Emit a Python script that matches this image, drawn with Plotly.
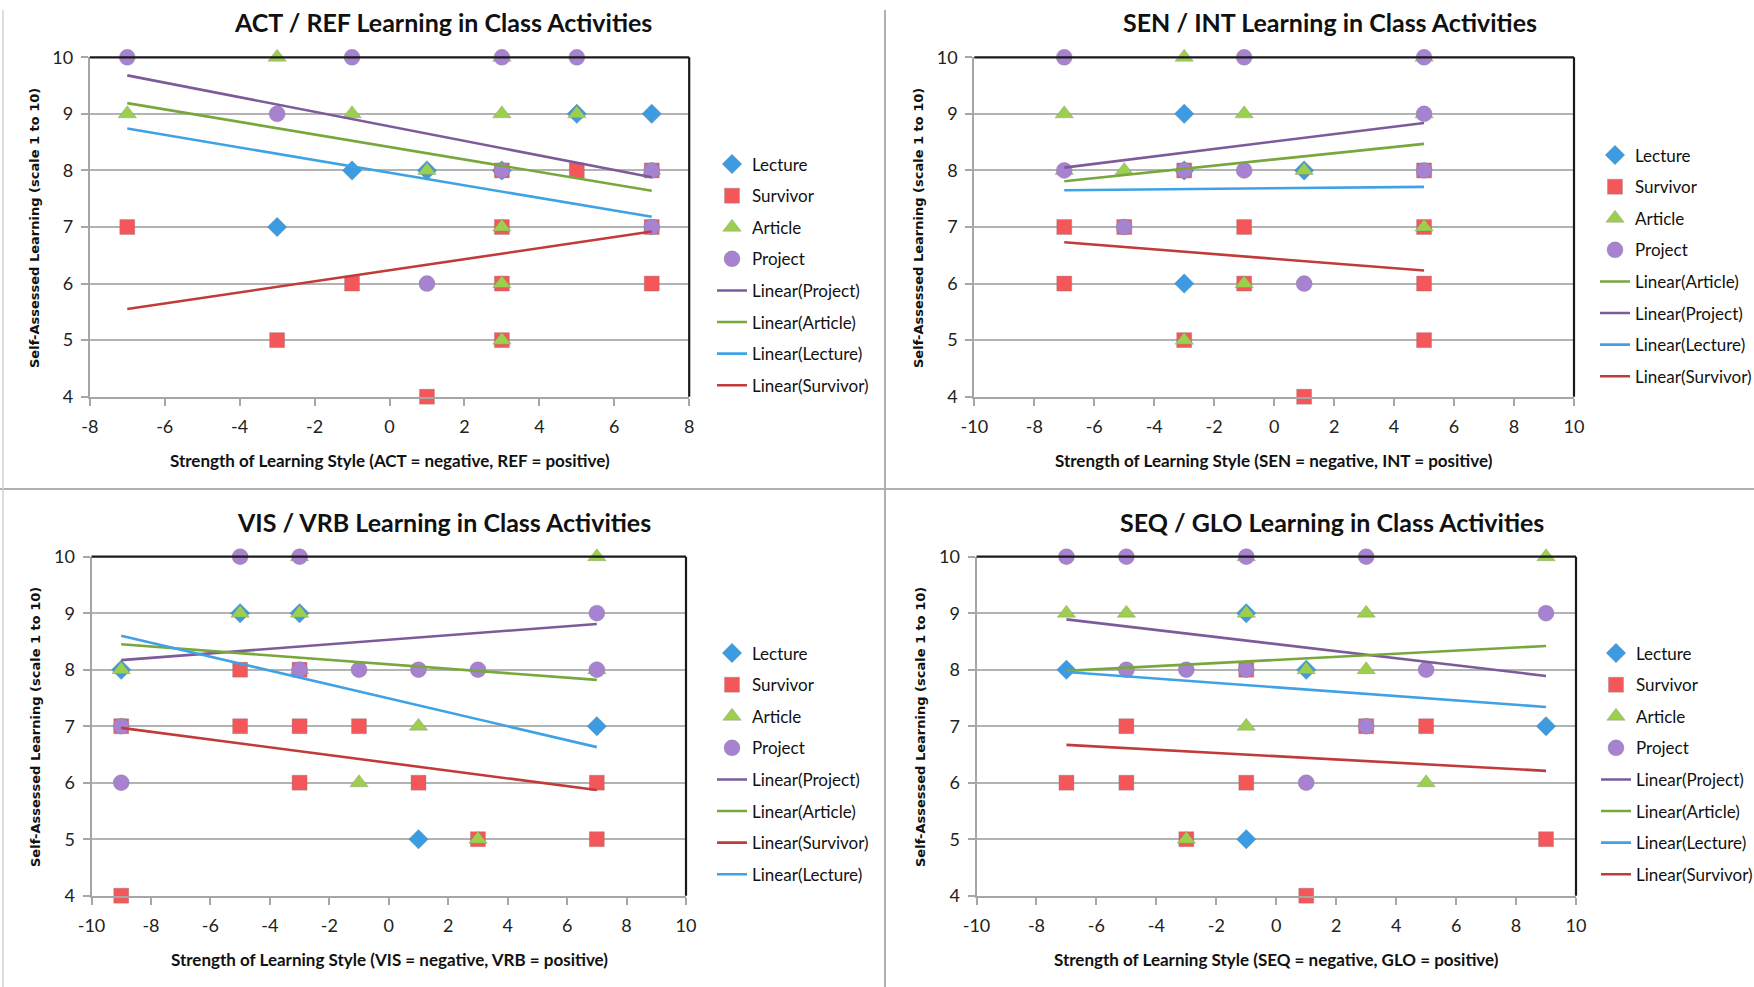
import plotly.graph_objects as go

# ---------------- DATA ----------------
# Panel 1: ACT / REF
act_lecture_x = [-3, -1, 1, 3, 5, 7]
act_lecture_y = [7, 8, 8, 8, 9, 9]
act_survivor_x = [-7, -3, -1, 1, 3, 3, 3, 3, 5, 7, 7, 7]
act_survivor_y = [7, 5, 6, 4, 8, 7, 6, 5, 8, 8, 7, 6]
act_article_x = [-7, -3, -1, 1, 3, 3, 3, 3, 3, 5, 7]
act_article_y = [9, 10, 9, 8, 10, 9, 7, 6, 5, 9, 8]
act_project_x = [-7, -3, -1, 1, 3, 3, 5, 7, 7]
act_project_y = [10, 9, 10, 6, 10, 8, 10, 8, 7]
act_trend_x = [-7, 7]
act_trend_project = [9.68, 7.88]
act_trend_article = [9.19, 7.64]
act_trend_lecture = [8.74, 7.18]
act_trend_survivor = [5.55, 6.92]

# Panel 2: SEN / INT
sen_lecture_x = [-3, -3, -3, 1]
sen_lecture_y = [9, 8, 6, 8]
sen_survivor_x = [-7, -7, -5, -3, -3, -1, -1, 1, 5, 5, 5, 5]
sen_survivor_y = [7, 6, 7, 8, 5, 7, 6, 4, 8, 7, 6, 5]
sen_article_x = [-7, -7, -5, -3, -3, -1, -1, 1, 5, 5, 5]
sen_article_y = [9, 8, 8, 10, 5, 9, 6, 8, 10, 9, 7]
sen_project_x = [-7, -7, -5, -3, -1, -1, 1, 5, 5, 5]
sen_project_y = [10, 8, 7, 8, 10, 8, 6, 10, 9, 8]
sen_trend_x = [-7, 5]
sen_trend_article = [7.81, 8.47]
sen_trend_project = [8.05, 8.84]
sen_trend_lecture = [7.65, 7.71]
sen_trend_survivor = [6.73, 6.23]

# Panel 3: VIS / VRB
vis_lecture_x = [-9, -5, -3, 1, 7]
vis_lecture_y = [8, 9, 9, 5, 7]
vis_survivor_x = [-9, -9, -5, -5, -3, -3, -3, -1, 1, 3, 7, 7]
vis_survivor_y = [7, 4, 8, 7, 8, 7, 6, 7, 6, 5, 6, 5]
vis_article_x = [-9, -5, -3, -3, -3, -1, 1, 3, 7, 7]
vis_article_y = [8, 9, 9, 10, 8, 6, 7, 5, 10, 8]
vis_project_x = [-9, -9, -5, -3, -3, -1, 1, 3, 7, 7]
vis_project_y = [7, 6, 10, 10, 8, 8, 8, 8, 9, 8]
vis_trend_x = [-9, 7]
vis_trend_project = [8.17, 8.81]
vis_trend_article = [8.45, 7.82]
vis_trend_survivor = [6.97, 5.87]
vis_trend_lecture = [8.60, 6.63]

# Panel 4: SEQ / GLO
seq_lecture_x = [-7, -1, -1, 1, 9]
seq_lecture_y = [8, 9, 5, 8, 7]
seq_survivor_x = [-7, -5, -5, -3, -1, -1, 1, 3, 5, 9]
seq_survivor_y = [6, 7, 6, 5, 8, 6, 4, 7, 7, 5]
seq_article_x = [-7, -5, -3, -1, -1, -1, 1, 3, 3, 5, 9]
seq_article_y = [9, 9, 5, 10, 9, 7, 8, 9, 8, 6, 10]
seq_project_x = [-7, -5, -5, -3, -1, -1, 1, 3, 3, 5, 9]
seq_project_y = [10, 10, 8, 8, 10, 8, 6, 10, 7, 8, 9]
seq_trend_x = [-7, 9]
seq_trend_project = [8.89, 7.89]
seq_trend_article = [7.98, 8.42]
seq_trend_lecture = [7.96, 7.34]
seq_trend_survivor = [6.67, 6.21]

x_ticks_8 = [-8, -6, -4, -2, 0, 2, 4, 6, 8]
x_ticks_10 = [-10, -8, -6, -4, -2, 0, 2, 4, 6, 8, 10]
y_ticks = [4, 5, 6, 7, 8, 9, 10]

titles = ["ACT / REF Learning in Class Activities", "SEN / INT Learning in Class Activities",
          "VIS / VRB Learning in Class Activities", "SEQ / GLO Learning in Class Activities"]
xtitles = ["Strength of Learning Style (ACT = negative, REF = positive)",
           "Strength of Learning Style (SEN = negative, INT = positive)",
           "Strength of Learning Style (VIS = negative, VRB = positive)",
           "Strength of Learning Style (SEQ = negative, GLO = positive)"]
ytitle = "Self-Assessed Learning (scale 1 to 10)"
series_names = ["Lecture", "Survivor", "Article", "Project"]

# ---------------- STYLE ----------------
W, H = 1754, 987
FONT = "Lato, Roboto, sans-serif"
marker_style = {
    "Lecture": dict(symbol="diamond", size=15, color="#3d9be1"),
    "Survivor": dict(symbol="square", size=15, color="#f4575a"),
    "Article": dict(symbol="triangle-up", size=16, color="#9dcf4f"),
    "Project": dict(symbol="circle", size=16, color="#a782d0"),
}
trend_color = {"Project": "#7d5a9a", "Article": "#78a73c", "Lecture": "#3fa2e5", "Survivor": "#c13b3a"}

panels = [
    dict(points={"Lecture": (act_lecture_x, act_lecture_y), "Survivor": (act_survivor_x, act_survivor_y),
                 "Article": (act_article_x, act_article_y), "Project": (act_project_x, act_project_y)},
         tx=act_trend_x,
         trends=[("Project", act_trend_project), ("Article", act_trend_article),
                 ("Lecture", act_trend_lecture), ("Survivor", act_trend_survivor)],
         xr=(-8, 8), xt=x_ticks_8, px=(89.8, 689.2), py=(57.3, 396.7), leg=(712, 146.5)),
    dict(points={"Lecture": (sen_lecture_x, sen_lecture_y), "Survivor": (sen_survivor_x, sen_survivor_y),
                 "Article": (sen_article_x, sen_article_y), "Project": (sen_project_x, sen_project_y)},
         tx=sen_trend_x,
         trends=[("Article", sen_trend_article), ("Project", sen_trend_project),
                 ("Lecture", sen_trend_lecture), ("Survivor", sen_trend_survivor)],
         xr=(-10, 10), xt=x_ticks_10, px=(974.3, 1574), py=(57.3, 396.7), leg=(1595, 137.5)),
    dict(points={"Lecture": (vis_lecture_x, vis_lecture_y), "Survivor": (vis_survivor_x, vis_survivor_y),
                 "Article": (vis_article_x, vis_article_y), "Project": (vis_project_x, vis_project_y)},
         tx=vis_trend_x,
         trends=[("Project", vis_trend_project), ("Article", vis_trend_article),
                 ("Survivor", vis_trend_survivor), ("Lecture", vis_trend_lecture)],
         xr=(-10, 10), xt=x_ticks_10, px=(91.5, 686), py=(556.7, 895.7), leg=(712, 635.5)),
    dict(points={"Lecture": (seq_lecture_x, seq_lecture_y), "Survivor": (seq_survivor_x, seq_survivor_y),
                 "Article": (seq_article_x, seq_article_y), "Project": (seq_project_x, seq_project_y)},
         tx=seq_trend_x,
         trends=[("Project", seq_trend_project), ("Article", seq_trend_article),
                 ("Lecture", seq_trend_lecture), ("Survivor", seq_trend_survivor)],
         xr=(-10, 10), xt=x_ticks_10, px=(976.5, 1576), py=(556.7, 895.7), leg=(1596, 635.5)),
]
title_pos = [(443, 22), (1330, 22), (444, 522), (1332, 522)]
xtitle_pos = [(390, 460), (1274, 460), (389, 959), (1276, 959)]
ytitle_pos = [(34, 228), (918, 228), (35, 727), (920, 727)]

fig = go.Figure()
layout = dict(width=W, height=H, margin=dict(l=0, r=0, t=0, b=0, autoexpand=False),
              paper_bgcolor="white", plot_bgcolor="white", showlegend=True)
annotations = []
shapes = []

def fx(x):
    return x / W

def fy(y):
    return 1 - y / H

for i, p in enumerate(panels):
    n = i + 1
    xa = "x" if n == 1 else f"x{n}"
    ya = "y" if n == 1 else f"y{n}"
    leg = "legend" if n == 1 else f"legend{n}"
    gi = 0
    for name in series_names:
        xs, ys = p["points"][name]
        ms = marker_style[name]
        fig.add_trace(go.Scatter(
            x=xs, y=ys, mode="markers", name=name, xaxis=xa, yaxis=ya, legend=leg,
            legendgroup=f"p{n}g{gi}", cliponaxis=False,
            marker=dict(symbol=ms["symbol"], size=ms["size"], color=ms["color"],
                        line=dict(width=0.6, color="rgba(120,120,120,0.5)"))))
        gi += 1
    for name, vals in p["trends"]:
        fig.add_trace(go.Scatter(
            x=p["tx"], y=vals, mode="lines", name=f"Linear({name})", xaxis=xa, yaxis=ya,
            legend=leg, legendgroup=f"p{n}g{gi}",
            line=dict(color=trend_color[name], width=2.6)))
        gi += 1

    x0, x1 = p["px"]
    y0, y1 = p["py"]
    axis_x = dict(domain=[fx(x0), fx(x1)], range=list(p["xr"]),
                  tickmode="array", tickvals=p["xt"], ticktext=[str(v) for v in p["xt"]],
                  showgrid=False, zeroline=False, showline=True, linecolor="#a6a6a6", linewidth=2,
                  ticks="outside", ticklen=7, tickcolor="#a6a6a6", tickwidth=1.5,
                  ticklabelstandoff=6, anchor=ya,
                  tickfont=dict(family=FONT, size=18, color="#222"))
    axis_y = dict(domain=[fy(y1), fy(y0)], range=[4, 10],
                  tickmode="array", tickvals=y_ticks, ticktext=[str(v) for v in y_ticks],
                  showgrid=True, gridcolor="#b3b3b3", gridwidth=1.5, zeroline=False, showline=True,
                  linecolor="#a6a6a6", linewidth=2, ticks="outside", ticklen=7,
                  tickcolor="#a6a6a6", tickwidth=1.5, ticklabelstandoff=4, anchor=xa,
                  tickfont=dict(family=FONT, size=18, color="#222"))
    layout["xaxis" if n == 1 else f"xaxis{n}"] = axis_x
    layout["yaxis" if n == 1 else f"yaxis{n}"] = axis_y
    lx, ly = p["leg"]
    layout[leg] = dict(x=fx(lx), y=fy(ly), xanchor="left", yanchor="top",
                       traceorder="grouped", tracegroupgap=6.5, bgcolor="rgba(0,0,0,0)",
                       font=dict(family=FONT, size=17, color="#111"), itemwidth=30)
    shapes.append(dict(type="line", xref="paper", yref="paper", x0=fx(x0), x1=fx(x1),
                       y0=fy(y0), y1=fy(y0), line=dict(color="#1a1a1a", width=2.2)))
    shapes.append(dict(type="line", xref="paper", yref="paper", x0=fx(x1), x1=fx(x1),
                       y0=fy(y0), y1=fy(y1), line=dict(color="#1a1a1a", width=2.2)))
    tx, ty = title_pos[i]
    annotations.append(dict(text=f"<b>{titles[i]}</b>", x=fx(tx), y=fy(ty), xref="paper", yref="paper",
                            xanchor="center", yanchor="middle", showarrow=False,
                            font=dict(family=FONT, size=25, color="#111")))
    ax_, ay_ = xtitle_pos[i]
    annotations.append(dict(text=f"<b>{xtitles[i]}</b>", x=fx(ax_), y=fy(ay_), xref="paper", yref="paper",
                            xanchor="center", yanchor="middle", showarrow=False,
                            font=dict(family=FONT, size=17, color="#111")))
    bx, by = ytitle_pos[i]
    annotations.append(dict(text=f"<b>{ytitle}</b>", x=fx(bx), y=fy(by), xref="paper", yref="paper",
                            xanchor="center", yanchor="middle", showarrow=False, textangle=-90,
                            font=dict(family="DejaVu Sans, Verdana, sans-serif", size=13, color="#111")))

sep = dict(color="#b0b0b0", width=2)
shapes.append(dict(type="line", xref="paper", yref="paper", x0=fx(885), x1=fx(885), y0=0, y1=fy(10), line=sep))
shapes.append(dict(type="line", xref="paper", yref="paper", x0=0, x1=1, y0=fy(489), y1=fy(489), line=sep))
shapes.append(dict(type="line", xref="paper", yref="paper", x0=fx(3), x1=fx(3), y0=0, y1=fy(10),
                   line=dict(color="#d0d0d0", width=1.5)))

layout["annotations"] = annotations
layout["shapes"] = shapes
fig.update_layout(**layout)
fig.write_html("out.html", config={"displayModeBar": False},
               post_script="document.body.style.margin='0';document.body.style.overflow='hidden';")
